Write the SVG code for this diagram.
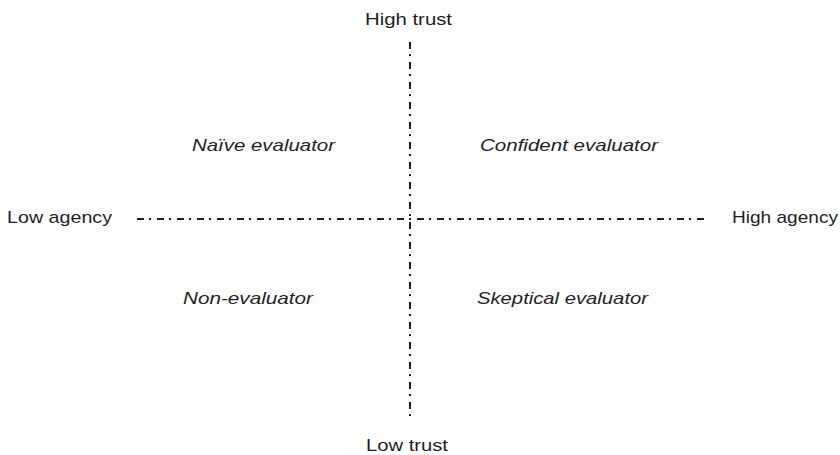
<svg xmlns="http://www.w3.org/2000/svg" width="840" height="455" viewBox="0 0 840 455">
<style>
.lbl{font-family:"Liberation Sans",Arial,sans-serif;font-size:17px;fill:#1e1e1e}
.q{font-style:italic}
.axis{stroke:#1e1e1e;stroke-width:2;stroke-dasharray:7 5 2 6;fill:none}
</style>
<rect width="840" height="455" fill="#ffffff"/>
<g id="connectors">
<line class="axis" x1="410" y1="42" x2="410" y2="418"/>
<line class="axis" x1="137" y1="219" x2="709" y2="219"/>
</g>
<g id="high-trust"><text class="lbl" x="365" y="25" textLength="87" lengthAdjust="spacingAndGlyphs">High trust</text></g>
<g id="low-trust"><text class="lbl" x="366" y="451" textLength="82" lengthAdjust="spacingAndGlyphs">Low trust</text></g>
<g id="low-agency"><text class="lbl" x="7" y="223" textLength="105" lengthAdjust="spacingAndGlyphs">Low agency</text></g>
<g id="high-agency"><text class="lbl" x="732" y="223" textLength="106" lengthAdjust="spacingAndGlyphs">High agency</text></g>
<g id="naive"><text class="lbl q" x="192" y="151" textLength="143" lengthAdjust="spacingAndGlyphs">Naïve evaluator</text></g>
<g id="confident"><text class="lbl q" x="480" y="151" textLength="178" lengthAdjust="spacingAndGlyphs">Confident evaluator</text></g>
<g id="non"><text class="lbl q" x="183" y="304" textLength="130" lengthAdjust="spacingAndGlyphs">Non-evaluator</text></g>
<g id="skeptical"><text class="lbl q" x="477" y="304" textLength="171" lengthAdjust="spacingAndGlyphs">Skeptical evaluator</text></g>
</svg>
